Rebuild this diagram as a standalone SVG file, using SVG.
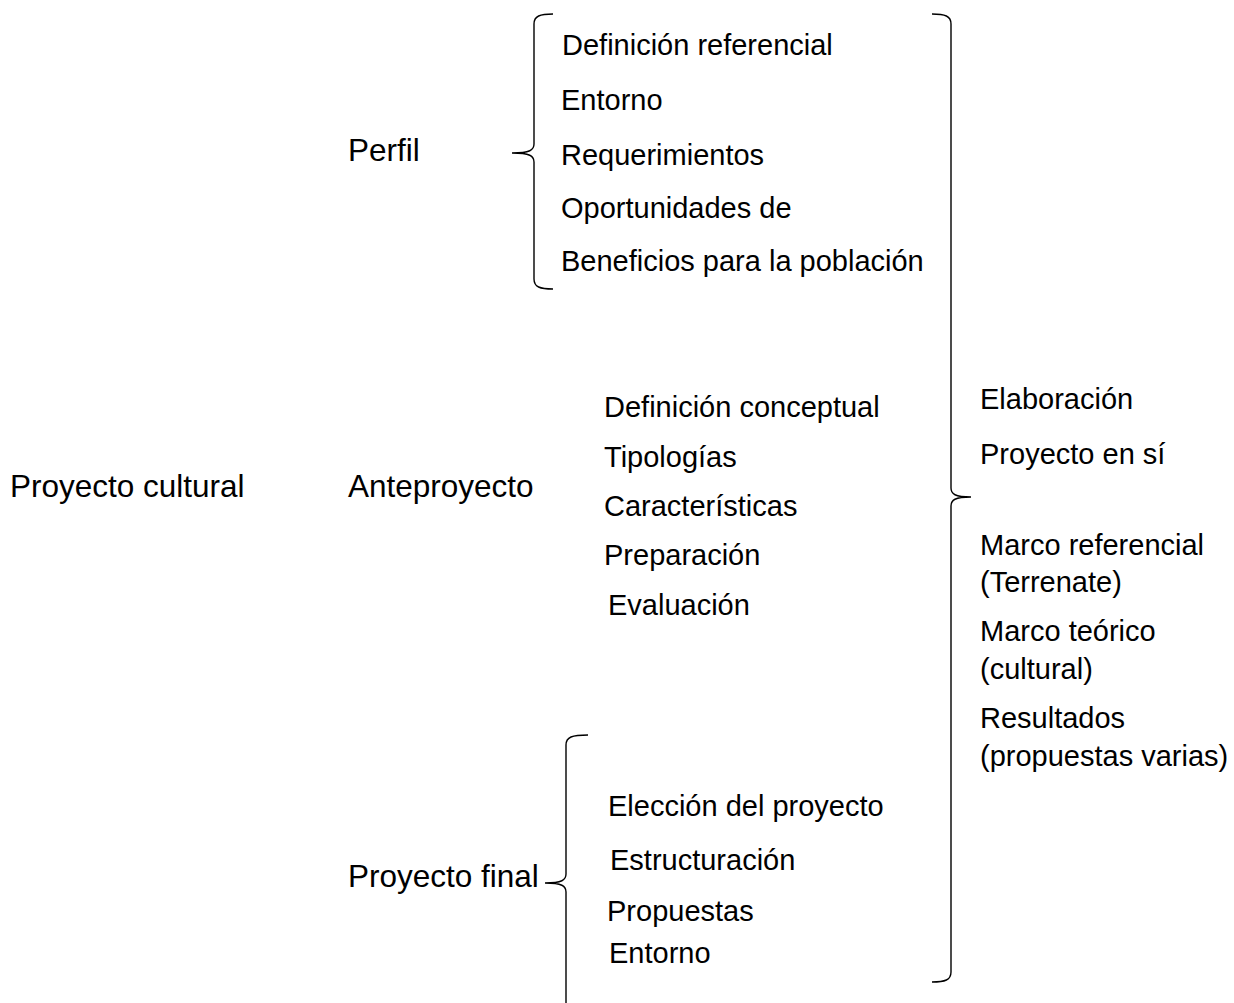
<svg xmlns="http://www.w3.org/2000/svg" width="1234" height="1003" viewBox="0 0 1234 1003">
<style>
text { font-family: "Liberation Sans", Arial, sans-serif; fill: #000; }
.main { font-size: 31.5px; }
.item { font-size: 29px; }
.brace { fill: none; stroke: #000; stroke-width: 1.4; }
</style>
<rect width="1234" height="1003" fill="#fff"/>
<g id="connectors">
  <path class="brace" d="M 553 14 C 540 14 534 16 534 24 L 534 144 C 534 150 530 153 512 153 C 530 153 534 156 534 162 L 534 279 C 534 287 540 289 553 289"/>
  <path class="brace" d="M 932 14 C 945 14 951 16 951 24 L 951 488 C 951 494 955 497 971 497 C 955 497 951 500 951 506 L 951 972 C 951 980 945 982 932 982"/>
  <path class="brace" d="M 588 735 C 572 735 566 737 566 745 L 566 874 C 566 880 562 883 545 883 C 562 883 566 886 566 892 L 566 1003"/>
</g>
<g id="proyecto-cultural"><text class="main" x="10" y="497">Proyecto cultural</text></g>
<g id="perfil"><text class="main" x="348" y="161">Perfil</text></g>
<g id="anteproyecto"><text class="main" x="348" y="497">Anteproyecto</text></g>
<g id="proyecto-final"><text class="main" x="348" y="887">Proyecto final</text></g>
<g id="perfil-items">
  <text class="item" x="562" y="55">Definición referencial</text>
  <text class="item" x="561" y="110">Entorno</text>
  <text class="item" x="561" y="165">Requerimientos</text>
  <text class="item" x="561" y="218">Oportunidades de</text>
  <text class="item" x="561" y="271">Beneficios para la población</text>
</g>
<g id="anteproyecto-items">
  <text class="item" x="604" y="417">Definición conceptual</text>
  <text class="item" x="604" y="467">Tipologías</text>
  <text class="item" x="604" y="516">Características</text>
  <text class="item" x="604" y="565">Preparación</text>
  <text class="item" x="608" y="615">Evaluación</text>
</g>
<g id="proyecto-final-items">
  <text class="item" x="608" y="816">Elección del proyecto</text>
  <text class="item" x="610" y="870">Estructuración</text>
  <text class="item" x="607" y="921">Propuestas</text>
  <text class="item" x="609" y="963">Entorno</text>
</g>
<g id="elaboracion-items">
  <text class="item" x="980" y="409">Elaboración</text>
  <text class="item" x="980" y="464">Proyecto en sí</text>
  <text class="item" x="980" y="555">Marco referencial</text>
  <text class="item" x="980" y="592">(Terrenate)</text>
  <text class="item" x="980" y="641">Marco teórico</text>
  <text class="item" x="980" y="679">(cultural)</text>
  <text class="item" x="980" y="728">Resultados</text>
  <text class="item" x="980" y="766">(propuestas varias)</text>
</g>
</svg>
